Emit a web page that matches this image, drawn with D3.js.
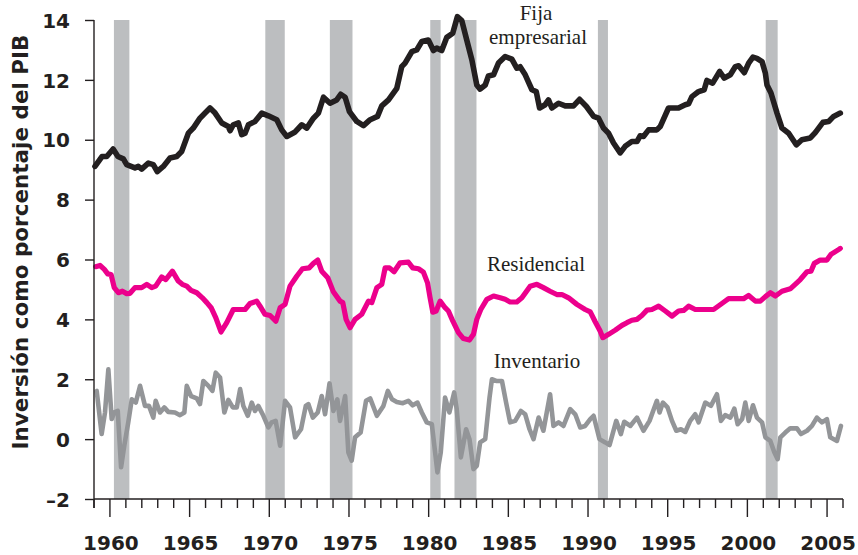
<!DOCTYPE html>
<html>
<head>
<meta charset="utf-8">
<script src="https://cdn.jsdelivr.net/npm/d3@7"></script>
<style>
  html, body { margin: 0; padding: 0; background: #fff; }
  svg { display: block; }
</style>
</head>
<body>
<svg id="chart" width="858" height="555"></svg>
<script>
// Inversión como porcentaje del PIB, 1959–2005

// Recesiones (inicio, fin) en años decimales
const recessionStart = [1960.25, 1969.75, 1973.8, 1980.1, 1981.62, 1990.62, 2001.15];
const recessionEnd   = [1961.22, 1970.97, 1975.22, 1980.75, 1983.0, 1991.25, 2001.9];

// Inversión fija empresarial
const fijaYears = [1959.06, 1959.5, 1959.8, 1960.2, 1960.5, 1960.84, 1961.05, 1961.57, 1961.78, 1961.99,
  1962.41, 1962.72, 1962.97, 1963.35, 1963.77, 1964.19, 1964.5, 1964.92, 1965.23, 1965.65,
  1965.97, 1966.28, 1966.6, 1967.02, 1967.43, 1967.54, 1967.74, 1968.06, 1968.27, 1968.48,
  1968.69, 1969.1, 1969.53, 1969.94, 1970.47, 1970.78, 1971.1, 1971.62, 1972.04, 1972.35,
  1972.77, 1973.08, 1973.4, 1973.81, 1974.23, 1974.48, 1974.76, 1975.03, 1975.49, 1975.91,
  1976.33, 1976.79, 1977.06, 1977.48, 1978.0, 1978.31, 1978.52, 1978.94, 1979.25, 1979.57,
  1979.98, 1980.3, 1980.51, 1980.82, 1981.14, 1981.51, 1981.8, 1982.08, 1982.39, 1982.71,
  1983.02, 1983.23, 1983.55, 1983.75, 1984.07, 1984.38, 1984.8, 1985.22, 1985.53, 1985.74,
  1986.06, 1986.48, 1986.75, 1986.96, 1987.31, 1987.52, 1987.73, 1988.15, 1988.57, 1989.09,
  1989.47, 1989.9, 1990.35, 1990.66, 1990.97, 1991.29, 1991.6, 1992.02, 1992.33, 1992.75,
  1993.07, 1993.27, 1993.48, 1993.8, 1994.32, 1994.53, 1995.05, 1995.68, 1996.1, 1996.31,
  1996.52, 1996.94, 1997.29, 1997.46, 1997.82, 1998.26, 1998.55, 1998.93, 1999.24, 1999.45,
  1999.81, 2000.08, 2000.35, 2000.6, 2000.92, 2001.13, 2001.23, 2001.48, 2001.86, 2002.17,
  2002.59, 2003.07, 2003.42, 2003.95, 2004.26, 2004.74, 2005.1, 2005.41, 2005.83];
const fijaValues = [9.11, 9.44, 9.44, 9.69, 9.44, 9.36, 9.17, 9.06, 9.11, 9.02,
  9.22, 9.17, 8.94, 9.11, 9.39, 9.44, 9.61, 10.22, 10.39, 10.72,
  10.89, 11.06, 10.89, 10.56, 10.44, 10.3, 10.5, 10.56, 10.17, 10.22,
  10.5, 10.61, 10.89, 10.8, 10.67, 10.33, 10.11, 10.26, 10.5, 10.39,
  10.72, 10.89, 11.42, 11.22, 11.33, 11.52, 11.42, 10.94, 10.61, 10.47,
  10.67, 10.78, 11.13, 11.33, 11.72, 12.44, 12.56, 12.94, 13.0, 13.28,
  13.33, 12.98, 13.06, 12.98, 13.42, 13.56, 14.11, 13.98, 13.33, 12.67,
  11.83, 11.69, 11.83, 12.13, 12.17, 12.56, 12.78, 12.69, 12.39, 12.44,
  12.17, 11.67, 11.61, 11.06, 11.17, 11.33, 11.06, 11.22, 11.13, 11.13,
  11.35, 11.11, 10.78, 10.72, 10.39, 10.22, 9.89, 9.56, 9.78, 9.94,
  9.94, 10.13, 10.11, 10.33, 10.33, 10.44, 11.06, 11.06, 11.17, 11.2,
  11.44, 11.61, 11.67, 11.98, 11.89, 12.28, 12.06, 12.17, 12.44, 12.47,
  12.24, 12.56, 12.76, 12.72, 12.61, 12.22, 11.83, 11.56, 10.89, 10.39,
  10.22, 9.83, 10.0, 10.06, 10.24, 10.58, 10.61, 10.78, 10.89];

// Inversión residencial
const resYears = [1959.1, 1959.38, 1959.65, 1959.86, 1960.07, 1960.27, 1960.53, 1960.78, 1961.05, 1961.26,
  1961.57, 1961.99, 1962.31, 1962.62, 1962.87, 1963.25, 1963.5, 1963.92, 1964.29, 1964.54,
  1964.82, 1965.09, 1965.45, 1965.8, 1966.08, 1966.35, 1966.64, 1966.97, 1967.33, 1967.74,
  1968.48, 1968.79, 1969.21, 1969.42, 1969.73, 1970.05, 1970.41, 1970.68, 1970.99, 1971.3,
  1971.72, 1972.08, 1972.5, 1972.77, 1973.04, 1973.29, 1973.67, 1974.02, 1974.44, 1974.61,
  1974.82, 1975.07, 1975.38, 1975.8, 1976.22, 1976.43, 1976.75, 1977.06, 1977.27, 1977.54,
  1977.83, 1978.21, 1978.73, 1979.0, 1979.36, 1979.67, 1979.93, 1980.09, 1980.26, 1980.47,
  1980.72, 1981.03, 1981.24, 1981.52, 1981.87, 1982.18, 1982.56, 1982.81, 1983.02, 1983.27,
  1983.65, 1984.07, 1984.49, 1984.8, 1985.11, 1985.53, 1985.85, 1986.37, 1986.79, 1987.2,
  1987.62, 1988.04, 1988.36, 1988.78, 1989.3, 1989.82, 1990.14, 1990.45, 1990.76, 1990.93,
  1991.29, 1991.71, 1992.13, 1992.44, 1992.75, 1993.07, 1993.38, 1993.7, 1994.01, 1994.43,
  1994.85, 1995.27, 1995.68, 1996.0, 1996.31, 1996.73, 1997.25, 1997.88, 1998.4, 1998.82,
  1999.35, 1999.76, 2000.08, 2000.5, 2000.81, 2001.13, 2001.44, 2001.76, 2002.17, 2002.69,
  2003.0, 2003.32, 2003.74, 2003.99, 2004.2, 2004.57, 2004.99, 2005.24, 2005.72, 2005.83];
const resValues = [5.76, 5.8, 5.67, 5.52, 5.5, 5.06, 4.89, 4.94, 4.86, 4.87,
  5.06, 5.06, 5.17, 5.06, 5.11, 5.42, 5.33, 5.61, 5.28, 5.17,
  5.11, 4.97, 4.89, 4.72, 4.56, 4.39, 4.06, 3.58, 3.89, 4.33,
  4.33, 4.53, 4.61, 4.44, 4.17, 4.13, 3.94, 4.39, 4.5, 5.11,
  5.44, 5.69, 5.72, 5.87, 5.98, 5.61, 5.39, 4.92, 4.61, 4.56,
  4.0, 3.72, 4.0, 4.17, 4.61, 4.56, 5.06, 5.17, 5.72, 5.72,
  5.59, 5.89, 5.91, 5.72, 5.69, 5.58, 5.22, 4.72, 4.24, 4.28,
  4.61, 4.39, 4.28, 3.94, 3.56, 3.36, 3.31, 3.5, 4.0, 4.33,
  4.67, 4.78, 4.72, 4.67, 4.58, 4.58, 4.72, 5.11, 5.17, 5.06,
  4.94, 4.83, 4.83, 4.72, 4.5, 4.33, 4.25, 3.92, 3.61, 3.39,
  3.5, 3.64, 3.8, 3.89, 3.97, 4.0, 4.13, 4.31, 4.33, 4.44,
  4.28, 4.11, 4.28, 4.3, 4.44, 4.33, 4.33, 4.33, 4.53, 4.69,
  4.69, 4.69, 4.8, 4.61, 4.61, 4.76, 4.89, 4.78, 4.94, 5.02,
  5.17, 5.33, 5.59, 5.61, 5.87, 5.98, 5.98, 6.17, 6.33, 6.37];

// Inversión en inventarios
const invYears = [1959.17, 1959.48, 1959.69, 1959.9, 1960.11, 1960.27, 1960.49, 1960.7, 1960.9, 1961.15,
  1961.37, 1961.62, 1961.89, 1962.2, 1962.45, 1962.72, 1962.87, 1963.14, 1963.41, 1963.66,
  1964.08, 1964.4, 1964.67, 1964.82, 1965.09, 1965.45, 1965.65, 1965.86, 1966.18, 1966.43,
  1966.64, 1966.91, 1967.18, 1967.43, 1967.71, 1967.96, 1968.17, 1968.37, 1968.65, 1968.9,
  1969.1, 1969.31, 1969.63, 1969.94, 1970.15, 1970.4, 1970.68, 1970.99, 1971.3, 1971.62,
  1971.99, 1972.29, 1972.45, 1972.73, 1973.04, 1973.29, 1973.5, 1973.78, 1974.02, 1974.27,
  1974.44, 1974.76, 1974.96, 1975.17, 1975.38, 1975.73, 1976.07, 1976.33, 1976.75, 1977.16,
  1977.44, 1977.7, 1978.0, 1978.38, 1978.73, 1979.0, 1979.3, 1979.57, 1979.88, 1980.2,
  1980.55, 1980.76, 1981.03, 1981.3, 1981.6, 1981.76, 1982.02, 1982.35, 1982.56, 1982.81,
  1983.02, 1983.23, 1983.55, 1983.82, 1983.97, 1984.28, 1984.6, 1984.86, 1985.11, 1985.43,
  1985.79, 1986.06, 1986.33, 1986.58, 1986.9, 1987.2, 1987.62, 1987.83, 1988.15, 1988.46,
  1988.88, 1989.2, 1989.51, 1989.82, 1990.14, 1990.35, 1990.72, 1991.08, 1991.35, 1991.77,
  1992.06, 1992.27, 1992.65, 1993.07, 1993.48, 1993.86, 1994.32, 1994.49, 1994.7, 1994.99,
  1995.27, 1995.54, 1995.83, 1996.1, 1996.41, 1996.73, 1996.94, 1997.36, 1997.71, 1998.09,
  1998.34, 1998.61, 1998.93, 1999.18, 1999.39, 1999.67, 1999.87, 2000.08, 2000.35, 2000.6,
  2000.92, 2001.13, 2001.44, 2001.69, 2001.9, 2002.07, 2002.38, 2002.69, 2003.11, 2003.36,
  2003.74, 2004.05, 2004.36, 2004.68, 2004.99, 2005.2, 2005.62, 2005.87];
const invValues = [1.61, 0.17, 0.89, 2.33, 0.67, 0.89, 0.94, -0.94, -0.22, 0.56,
  1.33, 1.22, 1.78, 1.11, 1.11, 0.72, 1.28, 0.89, 1.06, 0.91,
  0.89, 0.8, 0.89, 1.78, 1.44, 1.36, 1.17, 1.94, 1.78, 1.61,
  2.22, 2.06, 0.89, 1.31, 1.06, 1.06, 1.67, 1.11, 0.78, 1.22,
  0.94, 1.11, 0.78, 0.39, 0.56, 0.61, -0.22, 1.28, 1.06, 0.06,
  0.33, 1.11, 1.17, 0.72, 0.89, 1.44, 0.83, 1.86, 0.94, 1.33,
  0.61, 1.44, -0.44, -0.72, 0.06, 0.22, 1.28, 1.36, 0.78, 1.11,
  1.61, 1.33, 1.24, 1.2, 1.28, 1.13, 1.22, 0.89, 0.56, 0.5,
  -1.11, -0.44, 1.39, 0.89, 1.56, 1.0, -0.61, 0.33, 0.0, -1.0,
  -0.89, -0.11, 0.0, 1.39, 2.0, 1.94, 1.94, 1.22, 0.56, 0.61,
  0.94, 0.83, 0.33, 0.0, 0.72, 0.28, 1.5, 0.44, 0.56, 0.44,
  1.0, 0.83, 0.39, 0.44, 0.67, 0.78, 0.0, -0.11, -0.2, 0.61,
  0.17, 0.58, 0.44, 0.72, 0.28, 0.61, 1.28, 0.89, 1.22, 1.06,
  0.61, 0.28, 0.33, 0.24, 0.61, 0.83, 0.56, 1.22, 1.11, 1.5,
  0.61, 0.8, 0.72, 1.02, 0.5, 0.67, 1.22, 0.61, 1.13, 0.72,
  0.56, 0.06, -0.06, -0.44, -0.67, 0.06, 0.22, 0.36, 0.36, 0.17,
  0.28, 0.44, 0.72, 0.56, 0.67, 0.06, -0.06, 0.44];

// Ejes
const yTicks = [-2, 0, 2, 4, 6, 8, 10, 12, 14];
const xMajorTicks = [1960, 1965, 1970, 1975, 1980, 1985, 1990, 1995, 2000, 2005];
const xMinorTicks = d3.range(1959, 2007);

const ink = "#231f20";
const sans = "'DejaVu Sans', Verdana, sans-serif";
const svg = d3.select("#chart");

const x = d3.scaleLinear().domain([1959, 2006]).range([94, 843]);
const y = d3.scaleLinear().domain([-2, 14]).range([499, 20]);

// Bandas de recesión
svg.append("g")
  .selectAll("rect")
  .data(recessionStart.map((s, i) => [s, recessionEnd[i]]))
  .join("rect")
  .attr("x", d => x(d[0]))
  .attr("width", d => x(d[1]) - x(d[0]))
  .attr("y", y(14))
  .attr("height", y(-2) - y(14))
  .attr("fill", "#bcbec0");

// Series
const line = d3.line().x(d => x(d[0])).y(d => y(d[1]));
const series = [
  { years: invYears, values: invValues, color: "#939598", width: 4.6 },
  { years: resYears, values: resValues, color: "#ec008c", width: 5.2 },
  { years: fijaYears, values: fijaValues, color: ink, width: 5.6 }
];
svg.append("g")
  .selectAll("path")
  .data(series)
  .join("path")
  .attr("d", s => line(s.years.map((yr, i) => [yr, s.values[i]])))
  .attr("fill", "none")
  .attr("stroke", s => s.color)
  .attr("stroke-width", s => s.width)
  .attr("stroke-linejoin", "round")
  .attr("stroke-linecap", "round");

// Eje Y
const yAxis = svg.append("g")
  .attr("transform", `translate(${x(1959)},0)`)
  .call(d3.axisLeft(y).tickValues(yTicks).tickSize(9).tickPadding(15)
    .tickFormat(d => d < 0 ? "\u2013" + Math.abs(d) : d));
yAxis.select(".domain").attr("d", `M0,${y(14)}V${y(-2) + 9}`).attr("stroke", ink).attr("stroke-width", 1.4);
yAxis.selectAll(".tick line").attr("stroke", ink).attr("stroke-width", 1.4);
yAxis.selectAll(".tick text")
  .attr("fill", ink)
  .style("font-family", sans)
  .style("font-weight", "bold")
  .style("font-size", "20px")
  .attr("dy", "0.36em");

// Eje X
const xAxisG = svg.append("g").attr("transform", `translate(0,${y(-2)})`);
xAxisG.append("path")
  .attr("d", `M${x(1959)},0H${x(2006)}`)
  .attr("stroke", ink).attr("stroke-width", 1.4);
xAxisG.selectAll("line.minor")
  .data(xMinorTicks)
  .join("line")
  .attr("class", "minor")
  .attr("x1", d => x(d)).attr("x2", d => x(d))
  .attr("y1", 0)
  .attr("y2", d => xMajorTicks.includes(d) ? 18 : 9)
  .attr("stroke", ink).attr("stroke-width", 1.4);
xAxisG.selectAll("text")
  .data(xMajorTicks)
  .join("text")
  .attr("x", d => x(d) + 1)
  .attr("y", 51)
  .attr("text-anchor", "middle")
  .attr("fill", ink)
  .style("font-family", sans)
  .style("font-weight", "bold")
  .style("font-size", "20px")
  .text(d => d);

// Título del eje Y
svg.append("text")
  .attr("transform", "translate(28,242) rotate(-90)")
  .attr("text-anchor", "middle")
  .attr("fill", ink)
  .style("font-family", sans)
  .style("font-weight", "bold")
  .style("font-size", "21.5px")
  .text("Inversión como porcentaje del PIB");

// Etiquetas de las series
const serif = "'Liberation Serif', 'Times New Roman', serif";
const labels = [
  { text: "Fija", x: 536, y: 20 },
  { text: "empresarial", x: 538, y: 44 },
  { text: "Residencial", x: 536, y: 271 },
  { text: "Inventario", x: 537, y: 368 }
];
svg.append("g")
  .selectAll("text")
  .data(labels)
  .join("text")
  .attr("x", d => d.x)
  .attr("y", d => d.y)
  .attr("text-anchor", "middle")
  .attr("fill", ink)
  .style("font-family", serif)
  .style("font-size", "21px")
  .text(d => d.text);
</script>
</body>
</html>
